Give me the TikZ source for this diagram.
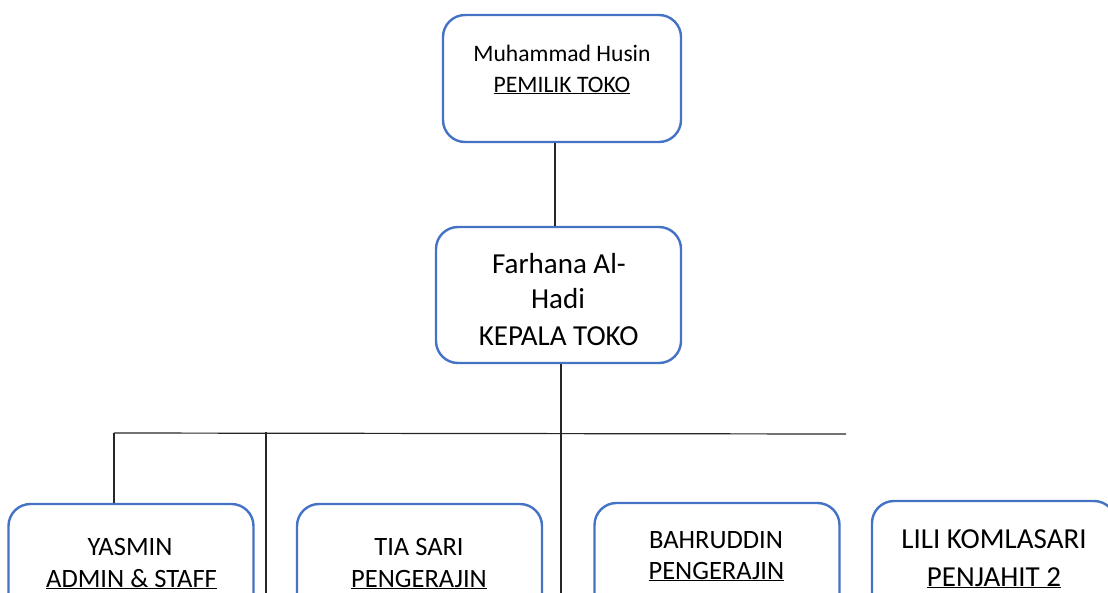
\documentclass[tikz,border=0pt]{standalone}
\usepackage{fontspec}
\setmainfont{Carlito}
\definecolor{boxblue}{HTML}{4472C4}
\begin{document}
\begin{tikzpicture}[x=1pt,y=-1pt,
  box/.style={draw=boxblue, line width=2.4pt, rounded corners=22pt, inner sep=0pt, fill=none},
  conn/.style={draw=black!85, line width=1.2pt},
  lbl/.style={anchor=base, inner sep=0pt, text=black},
  fa/.style={font=\fontsize{23.6}{28}\selectfont},
  fb/.style={font=\fontsize{29}{35}\selectfont},
  fc/.style={font=\fontsize{26.5}{32}\selectfont},
  fd/.style={font=\fontsize{29}{35}\selectfont}]
\useasboundingbox (0,0) rectangle (1108,592);
\clip (0,0) rectangle (1108,592);
% boxes
\node[box, minimum width=238pt, minimum height=127pt] (owner) at (562,78.5) {};
\node[box, minimum width=245pt, minimum height=136pt] (farhana) at (558.5,295) {};
\node[box, minimum width=245pt, minimum height=160pt] (yasmin) at (131,584) {};
\node[box, minimum width=245pt, minimum height=160pt] (tia) at (419.5,584) {};
\node[box, minimum width=245pt, minimum height=160pt] (bahr) at (717,583) {};
\node[box, minimum width=244pt, minimum height=160pt] (lili) at (994,581) {};
% texts
\node[lbl, fa] (ownername) at (562,61) {Muhammad Husin};
\node[lbl, fa] (ownerrole) at (562,92) {\underline{PEMILIK TOKO}};
\node[lbl, fb] (fname1) at (559,273) {Farhana Al-};
\node[lbl, fb] (fname2) at (558,308) {Hadi};
\node[lbl, fb] (frole) at (558.7,345) {KEPALA TOKO};
\node[lbl, fc] (yname) at (130,555) {YASMIN};
\node[lbl, fc] (yrole) at (131.5,587) {\underline{ADMIN \& STAFF}};
\node[lbl, fc] (tname) at (419,555) {TIA SARI};
\node[lbl, fc] (trole) at (419,587) {\underline{PENGERAJIN}};
\node[lbl, fc] (bname) at (716,548) {BAHRUDDIN};
\node[lbl, fc] (brole) at (716.4,579) {\underline{PENGERAJIN}};
\node[lbl, fd] (lname) at (994,548) {LILI KOMLASARI};
\node[lbl, fd] (lrole) at (994,586) {\underline{PENJAHIT 2}};
% connector coordinates
\coordinate (c1) at (555,0);
\coordinate (c2) at (561,0);
\coordinate (c2b) at (561,600);
\coordinate (busL) at (114,433);
\coordinate (busR) at (846,434);
\coordinate (midT) at (266,432);
\coordinate (midB) at (266,600);
% connectors
\draw[conn] (owner.south -| c1) -- (farhana.north -| c1);
\draw[conn] (farhana.south -| c2) -- (c2b);
\draw[conn] (busL) -- (busR);
\draw[conn] (busL) -- (yasmin.north -| busL);
\draw[conn] (midT) -- (midB);
\end{tikzpicture}
\end{document}
